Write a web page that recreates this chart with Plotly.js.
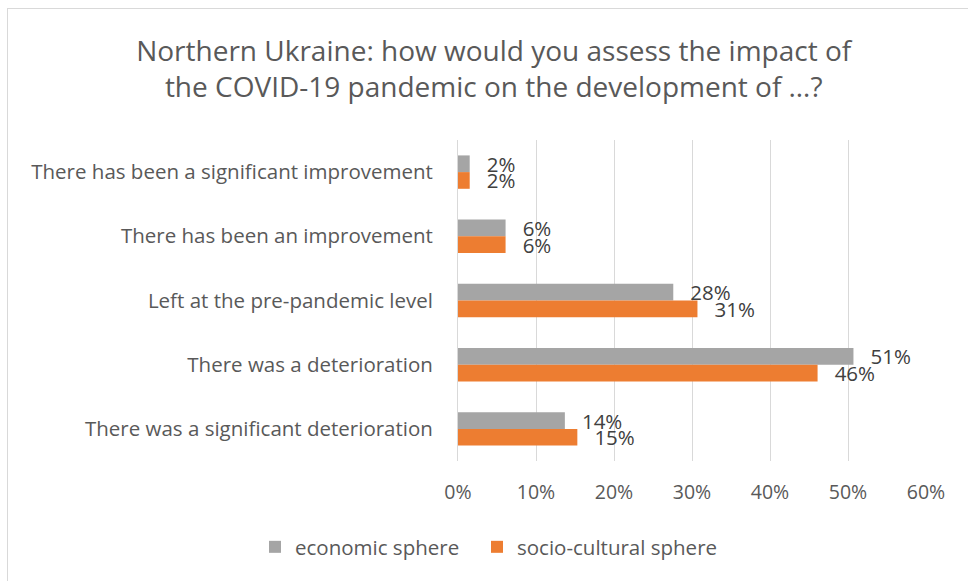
<!DOCTYPE html>
<html>
<head>
<meta charset="utf-8">
<script src="https://cdn.plot.ly/plotly-3.0.1.min.js"></script>
<style>
html,body{margin:0;padding:0;background:#fff;}
#wrap{position:relative;width:968px;height:581px;overflow:hidden;}
#frame{position:absolute;left:7px;top:8px;width:1000px;height:600px;border-left:1px solid #D9D9D9;border-top:1px solid #D9D9D9;pointer-events:none;z-index:5;}
#chart{position:absolute;left:0;top:0;width:968px;height:581px;}
</style>
</head>
<body>
<div id="wrap">
<div id="chart"></div>
<div id="frame"></div>
</div>
<script>
const categories = [
  "There has been a significant improvement",
  "There has been an improvement",
  "Left at the pre-pandemic level",
  "There was a deterioration",
  "There was a significant deterioration"
];
const economic = [0.015, 0.061, 0.276, 0.507, 0.137];
const socioCultural = [0.015, 0.061, 0.307, 0.461, 0.153];
const seriesNames = ["economic sphere", "socio-cultural sphere"];
const xTicks = [0, 0.1, 0.2, 0.3, 0.4, 0.5, 0.6];
const xTickLabels = ["0%", "10%", "20%", "30%", "40%", "50%", "60%"];

const FONT = "Open Sans, sans-serif";
const pad = "\u00a0\u00a0\u2009";

function barTrace(vals, name, color, legendId) {
  return {
    type: "bar",
    orientation: "h",
    y: categories,
    x: vals,
    name: name,
    legend: legendId,
    marker: {color: color, line: {width: 0}},
    text: vals.map(v => pad + Math.round(v * 100) + "%"),
    texttemplate: "%{text}",
    textposition: "outside",
    constraintext: "none",
    cliponaxis: false,
    textfont: {family: FONT, size: 20.5, color: "#404040"},
    hoverinfo: "skip"
  };
}

const data = [
  barTrace(economic, seriesNames[0], "#A5A5A5", "legend"),
  barTrace(socioCultural, seriesNames[1], "#ED7D31", "legend2")
];

const legendBase = {
  orientation: "h",
  xref: "container", xanchor: "left",
  y: 1 - 547/581, yref: "container", yanchor: "middle",
  font: {family: FONT, size: 20.5, color: "#595959"},
  itemwidth: 30,
  bgcolor: "rgba(0,0,0,0)"
};

const layout = {
  width: 968,
  height: 581,
  margin: {l: 458, r: 42, t: 140, b: 120, autoexpand: false},
  paper_bgcolor: "#fff",
  plot_bgcolor: "#fff",
  font: {family: FONT, color: "#595959"},
  title: {
    text: "Northern Ukraine: how would you assess the impact of<br>the COVID-19 pandemic on the development of …?",
    font: {family: FONT, size: 28, color: "#595959"},
    x: 0.51, xref: "container", xanchor: "center",
    y: 1 - 61/581, yref: "container", yanchor: "middle"
  },
  barmode: "group",
  bargap: 0.48,
  bargroupgap: 0,
  xaxis: {
    range: [0, 0.6],
    tickvals: xTicks,
    ticktext: xTickLabels,
    showgrid: true,
    gridcolor: "#D9D9D9",
    gridwidth: 1,
    zeroline: false,
    showline: false,
    ticks: "",
    tickfont: {family: FONT, size: 19.5, color: "#595959"},
    ticklabelstandoff: 17,
    fixedrange: true
  },
  yaxis: {
    type: "category",
    autorange: "reversed",
    showgrid: false,
    zeroline: false,
    showline: true,
    linecolor: "#D9D9D9",
    linewidth: 1,
    ticks: "",
    tickfont: {family: FONT, size: 20.5, color: "#595959"},
    ticklabelstandoff: 20,
    fixedrange: true
  },
  showlegend: true,
  legend: Object.assign({}, legendBase, {x: 255/968}),
  legend2: Object.assign({}, legendBase, {x: 477/968})
};

Plotly.newPlot("chart", data, layout, {displayModeBar: false, staticPlot: true});
</script>
</body>
</html>
